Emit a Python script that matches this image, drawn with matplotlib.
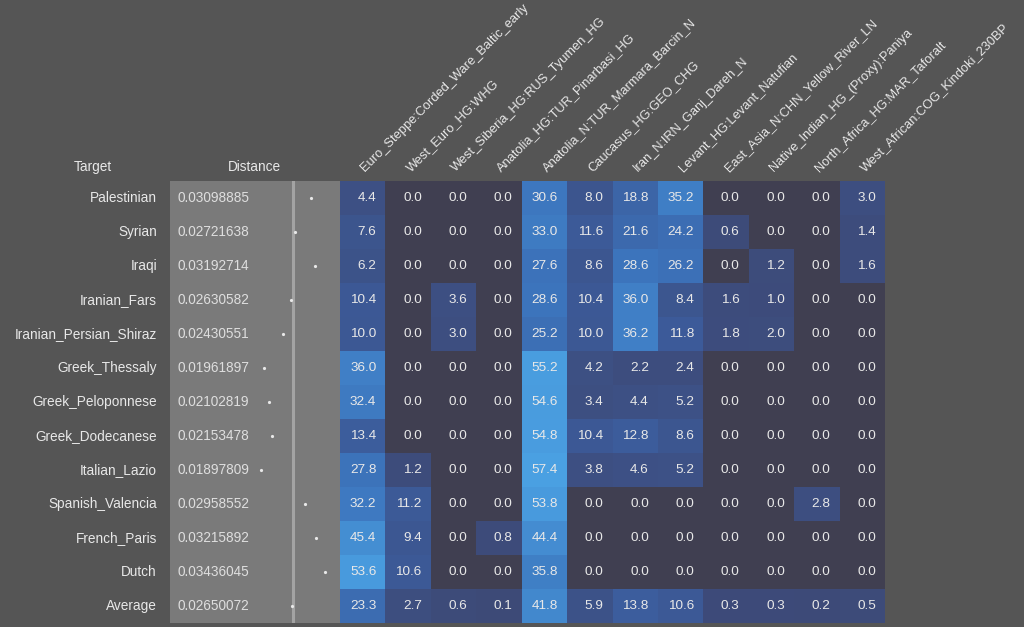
import numpy as np
import matplotlib
matplotlib.use("Agg")
import matplotlib.pyplot as plt
from matplotlib.colors import LinearSegmentedColormap, Normalize

plt.rcParams['font.family'] = ['Liberation Sans', 'DejaVu Sans']

targets = ['Palestinian', 'Syrian', 'Iraqi', 'Iranian_Fars', 'Iranian_Persian_Shiraz',
           'Greek_Thessaly', 'Greek_Peloponnese', 'Greek_Dodecanese', 'Italian_Lazio',
           'Spanish_Valencia', 'French_Paris', 'Dutch', 'Average']

distances = [0.03098885, 0.02721638, 0.03192714, 0.02630582, 0.02430551,
             0.01961897, 0.02102819, 0.02153478, 0.01897809, 0.02958552,
             0.03215892, 0.03436045, 0.02650072]

sources = ['Euro_Steppe:Corded_Ware_Baltic_early', 'West_Euro_HG:WHG',
           'West_Siberia_HG:RUS_Tyumen_HG', 'Anatolia_HG:TUR_Pinarbasi_HG',
           'Anatolia_N:TUR_Marmara_Barcin_N', 'Caucasus_HG:GEO_CHG',
           'Iran_N:IRN_Ganj_Dareh_N', 'Levant_HG:Levant_Natufian',
           'East_Asia_N:CHN_Yellow_River_LN', 'Native_Indian_HG_(Proxy):Paniya',
           'North_Africa_HG:MAR_Taforalt', 'West_African:COG_Kindoki_230BP']

palestinian = [4.4, 0.0, 0.0, 0.0, 30.6, 8.0, 18.8, 35.2, 0.0, 0.0, 0.0, 3.0]
syrian = [7.6, 0.0, 0.0, 0.0, 33.0, 11.6, 21.6, 24.2, 0.6, 0.0, 0.0, 1.4]
iraqi = [6.2, 0.0, 0.0, 0.0, 27.6, 8.6, 28.6, 26.2, 0.0, 1.2, 0.0, 1.6]
iranian_fars = [10.4, 0.0, 3.6, 0.0, 28.6, 10.4, 36.0, 8.4, 1.6, 1.0, 0.0, 0.0]
iranian_shiraz = [10.0, 0.0, 3.0, 0.0, 25.2, 10.0, 36.2, 11.8, 1.8, 2.0, 0.0, 0.0]
greek_thessaly = [36.0, 0.0, 0.0, 0.0, 55.2, 4.2, 2.2, 2.4, 0.0, 0.0, 0.0, 0.0]
greek_peloponnese = [32.4, 0.0, 0.0, 0.0, 54.6, 3.4, 4.4, 5.2, 0.0, 0.0, 0.0, 0.0]
greek_dodecanese = [13.4, 0.0, 0.0, 0.0, 54.8, 10.4, 12.8, 8.6, 0.0, 0.0, 0.0, 0.0]
italian_lazio = [27.8, 1.2, 0.0, 0.0, 57.4, 3.8, 4.6, 5.2, 0.0, 0.0, 0.0, 0.0]
spanish_valencia = [32.2, 11.2, 0.0, 0.0, 53.8, 0.0, 0.0, 0.0, 0.0, 0.0, 2.8, 0.0]
french_paris = [45.4, 9.4, 0.0, 0.8, 44.4, 0.0, 0.0, 0.0, 0.0, 0.0, 0.0, 0.0]
dutch = [53.6, 10.6, 0.0, 0.0, 35.8, 0.0, 0.0, 0.0, 0.0, 0.0, 0.0, 0.0]
average = [23.3, 2.7, 0.6, 0.1, 41.8, 5.9, 13.8, 10.6, 0.3, 0.3, 0.2, 0.5]

values = np.array([palestinian, syrian, iraqi, iranian_fars, iranian_shiraz,
                   greek_thessaly, greek_peloponnese, greek_dodecanese, italian_lazio,
                   spanish_valencia, french_paris, dutch, average])

bg = '#555555'
txt = '#e8e8e8'

cmap = LinearSegmentedColormap.from_list(
    'mix', [(0.0, '#403f51'), (0.0015, '#3d4a78'), (0.2, '#3c5a98'),
            (0.5, '#3c74bc'), (1.0, '#4aa0e2')], N=2048)
norm = Normalize(vmin=0, vmax=57.4)

fig = plt.figure(figsize=(10.24, 6.27), dpi=100, facecolor=bg)

# heatmap axes (pixels 340..885 x 181..623)
W, H = 1024.0, 627.0
ax = fig.add_axes([340 / W, 1 - 623 / H, 545 / W, 442 / H])
ax.set_facecolor(bg)
nrows, ncols = values.shape
ax.pcolormesh(np.arange(ncols + 1), np.arange(nrows + 1), values,
              cmap=cmap, norm=norm, shading='flat')
ax.set_xlim(0, ncols)
ax.set_ylim(nrows, 0)
ax.axis('off')

for i in range(nrows):
    for j in range(ncols):
        ax.text(j + 0.8, i + 0.5, f'{values[i, j]:.1f}', ha='right', va='center',
                color=txt, fontsize=9.7)

for j, s in enumerate(sources):
    ax.text(j + 0.6, -0.2, s, rotation=45, rotation_mode='anchor',
            ha='left', va='bottom', color=txt, fontsize=9.3, clip_on=False)

for i, t in enumerate(targets):
    ax.text(-4.03, i + 0.5, t, ha='right', va='center', color=txt,
            fontsize=9.8, clip_on=False)

ax.text(-5.45, -0.42, 'Target', ha='center', va='center', color=txt, fontsize=9.8, clip_on=False)
ax.text(-1.88, -0.42, 'Distance', ha='center', va='center', color=txt, fontsize=9.8, clip_on=False)

# distance column (pixels 170..340)
dax = fig.add_axes([170 / W, 1 - 623 / H, 170 / W, 442 / H])
dax.set_facecolor('#7a7a7a')
px_per_unit = 4160.0
x_lo, x_hi = -12 / px_per_unit, 158 / px_per_unit
dax.set_xlim(x_lo, x_hi)
dax.set_ylim(nrows, 0)
dax.axvline(distances[-1] + 0.0003, color='#a3a3a3', lw=2.2)
rows = np.arange(nrows) + 0.5
dax.plot(distances, rows, 'o', color='#e8e8e8', ms=2.3, mew=0)
text_x = x_lo + 8 / 170 * (x_hi - x_lo)
for i, d in enumerate(distances):
    dax.text(text_x, rows[i], f'{d:.8f}', ha='left', va='center',
             color='#dedede', fontsize=9.8)
for sp in dax.spines.values():
    sp.set_visible(False)
dax.set_xticks([])
dax.set_yticks([])

fig.savefig('out.png', dpi=100, facecolor=bg)
